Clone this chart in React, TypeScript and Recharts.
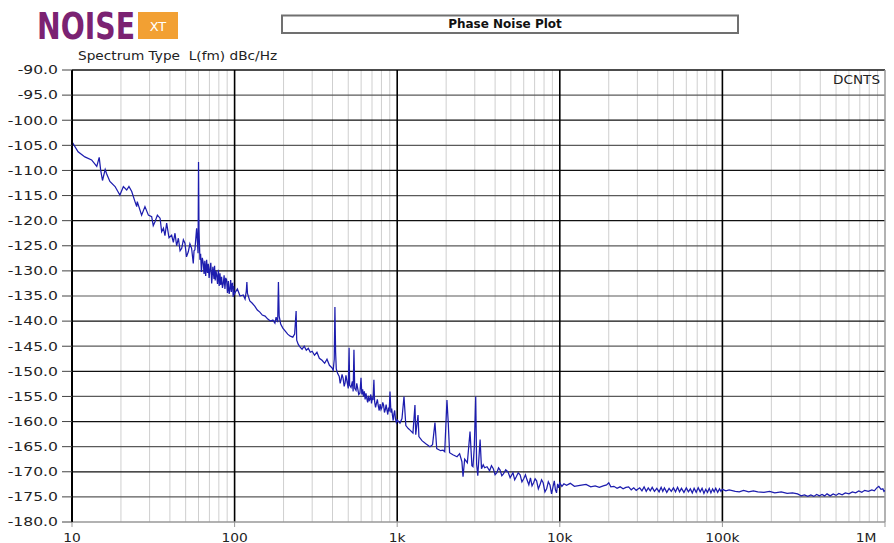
import { LineChart, Line, XAxis, YAxis, ReferenceLine } from 'recharts'

// frequency offset (Hz) / L(fm) dBc/Hz, one decade at a time
const DEC1_HZ = [
  10, 10.9, 12.0, 13.2, 14.2, 14.7, 15.0, 15.4, 16.0, 16.3, 17.1, 18.4, 19.7, 20.7, 21.7, 22.4, 23.3, 24.4, 25.0, 25.2,
  26.8, 28.1, 29.5, 30.9, 31.6, 32.4, 33.5, 34.8, 35.6, 36.5, 37.3, 38.2, 39.5, 41.0, 42.0, 43.0, 44.0, 45.1, 46.2, 47.3,
  48.4, 49.5, 50.6, 51.9, 53.1, 54.4, 55.7, 56.3, 57.0, 58.4, 59.6, 60.0, 60.4, 61.2, 61.8, 62.5, 63.3, 64.2, 64.9, 65.6,
  66.4, 67.3, 68.1, 68.9, 69.7, 70.6, 71.4, 72.3, 73.5, 74.7, 75.3, 76.0, 76.8, 77.6, 78.5, 79.5, 80.4, 81.3, 82.2, 83.2,
  84.2, 85.2, 86.2, 87.2, 88.2, 89.3, 90.4, 91.5, 92.6, 93.7, 94.6, 95.5, 96.4, 97.3, 98.0, 98.7, 99.4,
]
const DEC1_DB = [
  -104.3, -106.3, -107.3, -107.9, -109.2, -107.4, -109.9, -112.0, -109.8, -110.6, -112.2, -113.2, -114.9, -113.2, -113.9, -113.2, -114.2, -116.2, -117.2, -116.2,
  -118.9, -117.2, -118.9, -119.2, -121.0, -120.2, -118.9, -119.5, -122.2, -121.5, -123.0, -120.5, -123.4, -122.9, -124.3, -122.5, -125.0, -123.5, -126.0, -125.5,
  -123.8, -124.5, -127.2, -126.2, -124.6, -125.5, -128.5, -126.0, -125.8, -121.5, -126.5, -108.3, -121.7, -127.8, -126.6, -130.2, -127.4, -128.5, -130.6, -128.0,
  -131.0, -127.8, -130.4, -128.6, -131.4, -129.5, -128.4, -132.5, -129.2, -131.6, -129.0, -131.9, -130.0, -130.8, -132.6, -129.8, -133.0, -130.5, -132.8, -131.2,
  -133.4, -132.5, -130.9, -133.6, -131.4, -131.8, -134.4, -132.0, -134.6, -133.5, -131.8, -134.2, -132.6, -132.5, -135.2, -133.0, -134.8,
]

const DEC2_HZ = [
  100, 104, 108, 113, 116, 118, 119, 120, 124, 128, 133, 138, 143, 148, 154, 160, 166, 172, 177, 180,
  184, 186, 188, 192, 198, 205, 212, 220, 228, 234, 239, 241, 246, 253, 260, 268, 276, 284, 292, 300,
  310, 321, 332, 345, 358, 370, 383, 397, 404, 410, 414, 418, 422, 430, 440, 446, 452, 458, 465, 472,
  478, 484, 490, 500, 506, 510, 520, 530, 536, 542, 548, 558, 564, 570, 580, 590, 599, 606, 613, 620,
  628, 635, 643, 650, 658, 665, 673, 680, 688, 695, 703, 710, 719, 726, 736, 745, 755, 765, 775, 785,
  795, 805, 815, 825, 835, 845, 855, 865, 875, 885, 893, 903, 915, 925, 935, 945, 955, 965, 975, 988,
]
const DEC2_DB = [
  -134.5, -133.6, -135.0, -134.8, -135.6, -134.0, -132.2, -134.5, -136.0, -136.4, -137.0, -137.8, -138.2, -138.8, -139.0, -139.6, -140.0, -139.8, -140.4, -139.2,
  -140.2, -132.2, -139.0, -140.6, -141.4, -142.0, -142.6, -143.0, -143.2, -142.6, -138.0, -143.8, -144.6, -145.2, -145.6, -145.0, -145.8, -145.4, -146.2, -146.0,
  -146.8, -146.2, -147.4, -147.8, -148.4, -147.6, -148.8, -149.3, -149.8, -147.6, -137.2, -146.2, -149.5, -150.4, -151.0, -152.4, -151.6, -150.6, -151.4, -153.0,
  -152.3, -150.8, -151.8, -153.4, -145.3, -152.8, -153.2, -152.0, -154.0, -145.7, -153.4, -153.8, -152.4, -153.2, -154.6, -154.3, -151.3, -154.6, -153.6, -155.0,
  -154.0, -155.6, -154.4, -155.4, -156.2, -154.9, -155.8, -155.6, -154.6, -156.4, -155.2, -155.7, -151.7, -156.0, -157.2, -156.4, -155.6, -156.9, -157.8, -156.5,
  -157.6, -157.2, -156.2, -156.8, -158.2, -157.6, -156.6, -157.7, -158.6, -157.2, -158.0, -154.0, -158.2, -157.4, -158.8, -159.8, -158.4, -157.8, -159.4, -160.2,
]

const DEC3_HZ = [
  1000, 1040, 1070, 1101, 1130, 1170, 1200, 1250, 1286, 1300, 1343, 1360, 1420, 1500, 1590, 1650, 1707, 1750, 1850, 1914,
  1960, 2023, 2060, 2100, 2200, 2333, 2420, 2500, 2540, 2600, 2700, 2805, 2880, 2924, 2980, 3040, 3080, 3130, 3235, 3300,
  3380, 3450, 3568, 3700, 3800, 3900, 4000, 4100, 4200, 4286, 4400, 4500, 4650, 4800, 4950, 5152, 5280, 5400, 5550, 5700,
  5850, 6000, 6150, 6285, 6450, 6600, 6750, 6900, 7050, 7200, 7380, 7550, 7720, 7900, 8100, 8300, 8500, 8700, 8900, 9080,
  9250, 9400, 9550, 9700, 9850,
]
const DEC3_DB = [
  -159.7, -160.3, -159.4, -155.0, -160.8, -161.4, -161.7, -162.3, -156.7, -162.6, -158.7, -163.0, -163.8, -164.4, -165.0, -164.6, -160.2, -165.4, -165.8, -165.7,
  -166.0, -155.7, -160.2, -166.2, -166.6, -167.0, -166.4, -168.0, -171.0, -167.5, -168.2, -162.0, -168.8, -169.0, -165.0, -155.0, -168.5, -170.8, -163.6, -169.4,
  -168.6, -169.2, -169.0, -169.8, -168.8, -169.4, -170.6, -170.2, -169.2, -169.6, -170.8, -170.4, -169.6, -170.0, -171.2, -170.2, -171.6, -171.0, -170.2, -170.6,
  -172.0, -171.4, -170.6, -171.6, -172.6, -171.2, -172.8, -172.2, -171.4, -171.8, -173.4, -172.6, -171.6, -172.2, -174.0, -173.4, -172.0, -172.6, -174.4, -173.0,
  -171.8, -173.6, -174.2, -172.4, -173.2,
]

const DEC4_HZ = [
  10000, 10300, 10600, 11000, 11600, 12300, 13300, 14500, 15500, 16500, 17500, 18500, 19400, 20000, 20600, 21500, 22500, 23500, 24500, 25500,
  26500, 27500, 28500, 29500, 31000, 32000, 33000, 34000, 35000, 36000, 37000, 38200, 39500, 40800, 42000, 43000, 44000, 45500, 47000, 48500,
  50000, 51500, 53000, 54500, 56000, 58000, 60000, 61800, 63500, 65300, 67000, 69000, 71000, 73000, 75000, 77000, 79000, 81000, 83000, 85000,
  87000, 89000, 91000, 93500, 96000, 98000,
]
const DEC4_DB = [
  -172.2, -172.9, -172.4, -172.7, -172.3, -172.9, -172.7, -172.5, -173.0, -172.8, -173.1, -172.8, -172.6, -172.2, -173.0, -172.9, -173.3, -173.0, -173.4, -173.1,
  -173.0, -173.6, -173.2, -173.7, -173.2, -173.8, -173.0, -173.9, -173.2, -173.8, -173.1, -173.9, -173.3, -174.0, -173.1, -173.9, -173.2, -174.1, -173.3, -173.9,
  -173.2, -174.0, -173.1, -174.0, -173.3, -174.1, -173.2, -174.0, -173.4, -174.2, -173.3, -174.1, -173.2, -174.0, -173.3, -174.3, -173.5, -174.1, -173.3, -174.2,
  -173.4, -174.0, -173.3, -174.1, -173.4, -173.9,
]

const DEC5_HZ = [
  100000, 105000, 110000, 120000, 127000, 135000, 145000, 155000, 165000, 180000, 195000, 210000, 230000, 250000, 270000, 290000, 305000, 320000, 335000, 350000,
  365000, 380000, 395000, 410000, 425000, 440000, 460000, 480000, 500000, 520000, 545000, 570000, 600000, 630000, 660000, 690000, 720000, 750000, 790000, 830000,
  860000, 890000, 916000, 945000, 970000, 985000, 1000000,
]
const DEC5_DB = [
  -173.5, -173.8, -173.6, -173.9, -174.0, -173.7, -174.0, -173.8, -174.0, -174.1, -173.9, -174.2, -174.0, -174.3, -174.2, -174.4, -174.8, -174.6, -174.9, -174.6,
  -174.9, -174.5, -174.8, -174.5, -174.8, -174.4, -174.8, -174.4, -174.7, -174.3, -174.6, -174.2, -174.4, -174.0, -174.2, -173.8, -174.1, -173.7, -173.9, -173.6,
  -173.8, -173.2, -172.9, -173.5, -173.4, -173.9, -173.7,
]

const X_TICKS = [10, 100, 1000, 10000, 100000, 1000000]
const X_LABELS = ['10', '100', '1k', '10k', '100k', '1M']
const Y_TICKS = [-90, -95, -100, -105, -110, -115, -120, -125, -130, -135, -140, -145, -150, -155, -160, -165, -170, -175, -180]
const MINOR_MULTS = [2, 3, 4, 5, 6, 7, 8, 9]

const HZ = [...DEC1_HZ, ...DEC2_HZ, ...DEC3_HZ, ...DEC4_HZ, ...DEC5_HZ]
const DB = [...DEC1_DB, ...DEC2_DB, ...DEC3_DB, ...DEC4_DB, ...DEC5_DB]
const data = HZ.map((f, i) => ({ f, db: DB[i] }))

const minorLines = X_TICKS.slice(0, -1).flatMap((d) => MINOR_MULTS.map((m) => d * m))

const FONT = '"DejaVu Sans", Verdana, sans-serif'

function YTick({ x, y, payload }: any) {
  return (
    <g transform={`translate(${x},${y})`}>
      <text transform="scale(1.3,1)" textAnchor="end" dy="0.36em" fontSize={12} fill="#222" fontFamily={FONT}>
        {Number(payload.value).toFixed(1)}
      </text>
    </g>
  )
}

function XTick({ x, y, payload }: any) {
  const i = X_TICKS.indexOf(payload.value)
  return (
    <g transform={`translate(${x},${y})`}>
      <text transform="scale(1.15,1)" textAnchor="middle" dy="0.71em" fontSize={12} fill="#222" fontFamily={FONT}>
        {X_LABELS[i] ?? payload.value}
      </text>
    </g>
  )
}

export default function App() {
  return (
    <div style={{ position: 'absolute', left: 0, top: 0, width: 894, height: 543, background: '#fff' }}>
      <LineChart width={894} height={543} data={data} margin={{ top: 70, right: 9, bottom: 0, left: 0 }}>
        <XAxis
          dataKey="f" type="number" scale="log" domain={[10, 1000000]} ticks={X_TICKS} allowDataOverflow
          height={21} tick={<XTick />} tickSize={5} tickMargin={6}
          axisLine={{ stroke: '#999', strokeWidth: 1.5 }} tickLine={{ stroke: '#999' }}
        />
        <YAxis
          type="number" domain={[-180, -90]} ticks={Y_TICKS} allowDataOverflow width={72}
          tick={<YTick />} tickSize={10} tickMargin={4}
          axisLine={{ stroke: '#000', strokeWidth: 2 }} tickLine={{ stroke: '#444' }}
        />
        {minorLines.map((f) => (
          <ReferenceLine key={`m${f}`} x={f} stroke="#cfcfcf" strokeWidth={1} />
        ))}
        {Y_TICKS.slice(1, -1).map((v) => (
          <ReferenceLine key={`h${v}`} y={v} stroke={v % 10 === 0 ? '#111' : '#5a5a5a'} strokeWidth={1.2} />
        ))}
        <ReferenceLine y={-90} stroke="#111" strokeWidth={1.5} />
        {X_TICKS.slice(1, -1).map((f) => (
          <ReferenceLine key={`d${f}`} x={f} stroke="#000" strokeWidth={1.6} />
        ))}
        <ReferenceLine x={1000000} stroke="#999" strokeWidth={1.5} />
        <Line
          dataKey="db" type="linear" stroke="#1d1dae" strokeWidth={1.25} dot={false}
          isAnimationActive={false}
        />
      </LineChart>
      <svg width={894} height={543} style={{ position: 'absolute', left: 0, top: 0, pointerEvents: 'none' }}>
        <text
          x={0} y={0} transform="translate(37,39) scale(0.745,1)" fontFamily={FONT}
          fontWeight="bold" fontSize={38} fill="#7b2272"
        >
          NOISE
        </text>
        <rect x={138} y={12} width={40} height={27} fill="#f2a033" />
        <text x={158} y={31} textAnchor="middle" fontSize={13} fill="#fff" fontFamily={FONT}>XT</text>
        <rect x={282} y={15.5} width={456} height={17.5} fill="#fff" stroke="#707070" strokeWidth={2} />
        <text x={505} y={28} textAnchor="middle" fontSize={12} fontWeight="bold" fill="#111" fontFamily={FONT}>
          Phase Noise Plot
        </text>
        <text x={0} y={0} transform="translate(78,60) scale(1.14,1)" fontSize={12} fill="#222" fontFamily={FONT}>
          {'Spectrum Type\u00a0 L(fm) dBc/Hz'}
        </text>
        <text x={0} y={0} transform="translate(880,84) scale(1.13,1)" textAnchor="end" fontSize={12} fill="#222" fontFamily={FONT}>
          DCNTS
        </text>
      </svg>
    </div>
  )
}
